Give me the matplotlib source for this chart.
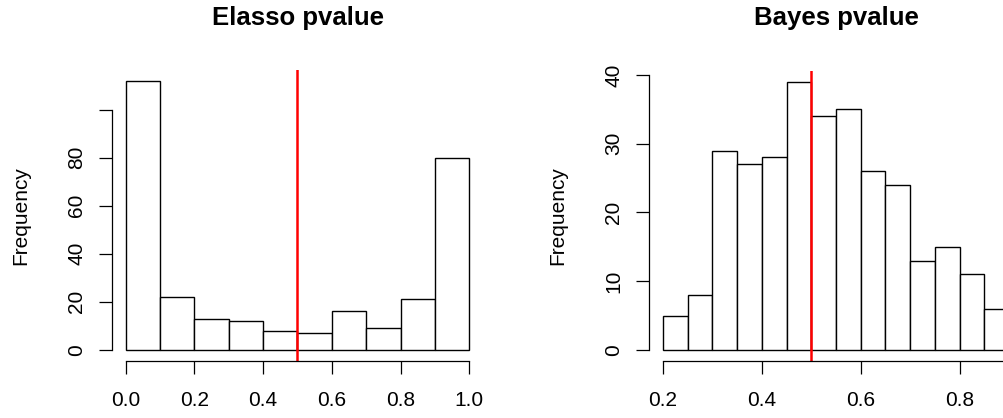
import matplotlib
matplotlib.use("Agg")
import matplotlib.pyplot as plt

plt.rcParams['font.family'] = ['Liberation Sans', 'DejaVu Sans']

# Elasso p-values: bins of 0.1 from 0 to 1
elasso_edges = [0.0, 0.1, 0.2, 0.3, 0.4, 0.5, 0.6, 0.7, 0.8, 0.9, 1.0]
elasso_counts = [112, 22, 13, 12, 8, 7, 16, 9, 21, 80]
elasso_yticks = [0, 20, 40, 60, 80, 100]
elasso_ylabels = ['0', '20', '40', '60', '80', '']
elasso_xticks = [0.0, 0.2, 0.4, 0.6, 0.8, 1.0]

# Bayes p-values: bins of 0.05 (figure is cut at the right edge)
bayes_edges = [0.2, 0.25, 0.3, 0.35, 0.4, 0.45, 0.5, 0.55, 0.6, 0.65,
               0.7, 0.75, 0.8, 0.85, 0.9]
bayes_counts = [5, 8, 29, 27, 28, 39, 34, 35, 26, 24, 13, 15, 11, 6]
bayes_yticks = [0, 10, 20, 30, 40]
bayes_xticks = [0.2, 0.4, 0.6, 0.8]

cutoff = 0.5

W, H = 1004, 418
fig = plt.figure(figsize=(W / 100, H / 100), dpi=100)


def px_axes(x0, x1, y0, y1):
    # pixel box (top-left origin) -> figure fraction axes
    return fig.add_axes([x0 / W, (H - y1) / H, (x1 - x0) / W, (y1 - y0) / H])


def r_hist(ax, edges, counts, xlim, yticks, ylabels, xticks, xbound, title):
    lefts = edges[:-1]
    widths = [b - a for a, b in zip(edges[:-1], edges[1:])]
    ax.bar(lefts, counts, width=widths, align='edge', color='white',
           edgecolor='black', linewidth=1.0)
    ax.axvline(cutoff, color='#ff0000', linewidth=1.8)
    for s in ['top', 'right']:
        ax.spines[s].set_visible(False)
    ax.spines['left'].set_bounds(yticks[0], yticks[-1])
    ax.spines['bottom'].set_bounds(*xbound)
    ax.spines['left'].set_linewidth(0.9)
    ax.spines['bottom'].set_linewidth(0.9)
    ax.set_yticks(yticks)
    ax.set_yticklabels(ylabels, rotation=90, va='center', fontsize=15)
    ax.set_xticks(xticks)
    ax.set_xticklabels(['%.1f' % t for t in xticks], fontsize=15)
    top = max(counts)
    ax.set_ylim(-0.04 * top, 1.04 * top)
    ax.set_xlim(*xlim)
    ax.tick_params(axis='both', length=9.5, width=0.9, direction='out')
    ax.tick_params(axis='x', pad=12)
    ax.tick_params(axis='y', pad=9)
    bb = ax.get_position()
    fig.text(bb.x0 + bb.width / 2, 1 - 25 / H, title, ha='center',
             va='baseline', fontsize=18.5, fontweight='bold')
    fig.text(bb.x0 - 91 / W, bb.y0 + bb.height / 2, 'Frequency', rotation=90,
             ha='center', va='center', fontsize=15)


ax1 = px_axes(112, 483, 70, 360.7)
r_hist(ax1, elasso_edges, elasso_counts, (-0.04, 1.04), elasso_yticks,
       elasso_ylabels, elasso_xticks, (0.0, 1.0), 'Elasso pvalue')

ax2 = px_axes(649, 1023, 71, 360.7)
r_hist(ax2, bayes_edges, bayes_counts, (0.172, 0.928), bayes_yticks,
       [str(t) for t in bayes_yticks], bayes_xticks, (0.2, 1.0), 'Bayes pvalue')

fig.savefig('out.png', dpi=100)
